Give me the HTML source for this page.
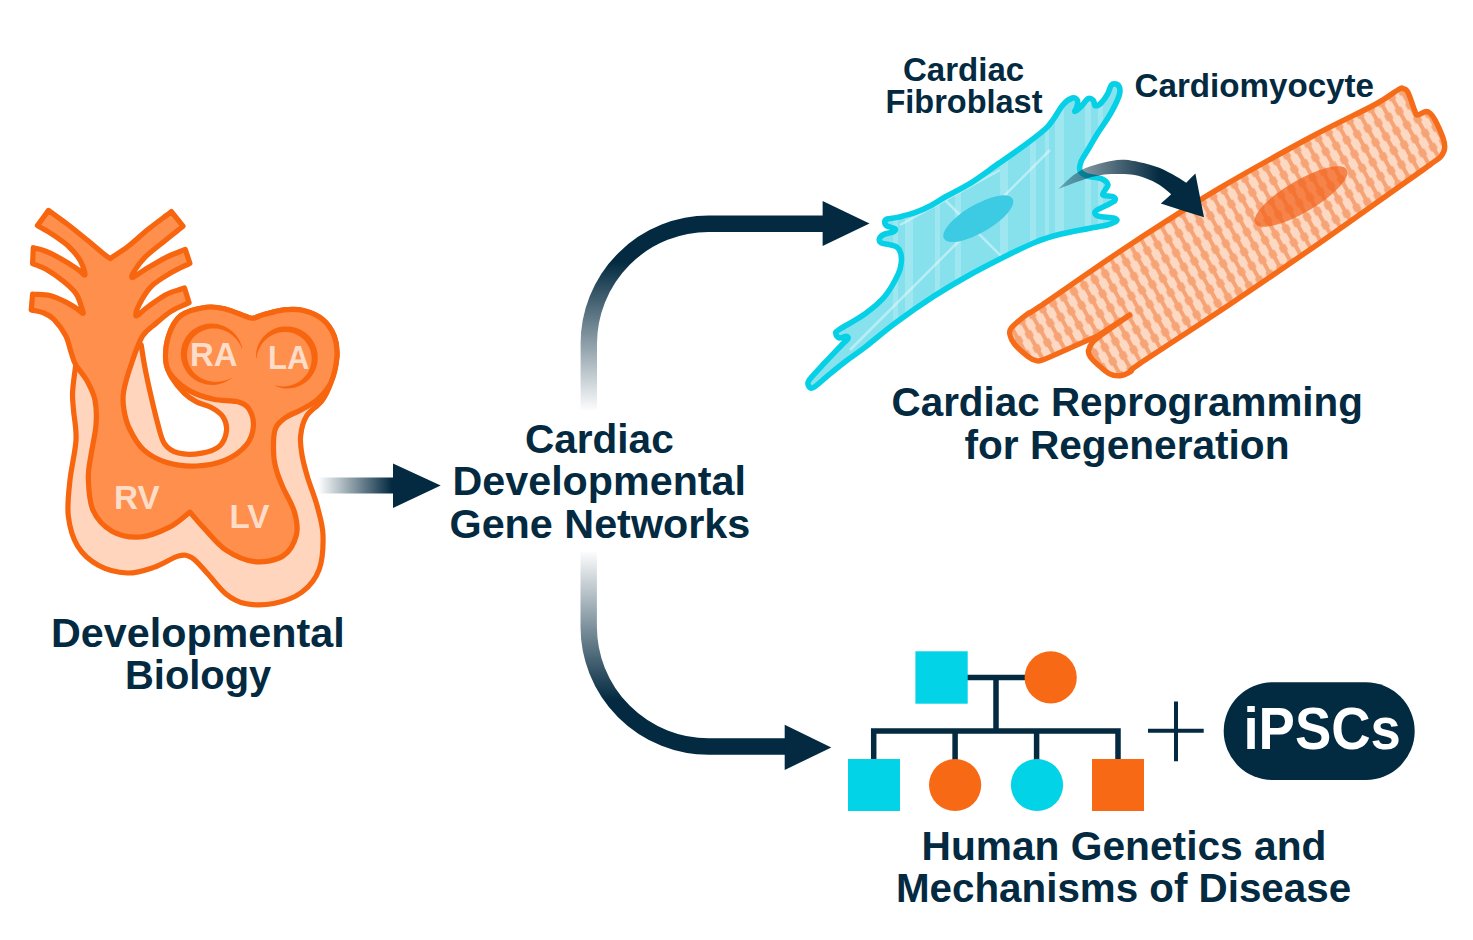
<!DOCTYPE html>
<html><head><meta charset="utf-8">
<style>
html,body{margin:0;padding:0;background:#fff;}
body{width:1473px;height:940px;overflow:hidden;}
svg{display:block;}
text{font-family:"Liberation Sans",sans-serif;font-weight:bold;}
</style></head><body>
<svg width="1473" height="940" viewBox="0 0 1473 940">
<defs>
  <linearGradient id="gL" gradientUnits="userSpaceOnUse" x1="318" y1="0" x2="392" y2="0">
    <stop offset="0" stop-color="#032a40" stop-opacity="0"/>
    <stop offset="1" stop-color="#032a40" stop-opacity="1"/>
  </linearGradient>
  <linearGradient id="gT" gradientUnits="userSpaceOnUse" x1="0" y1="412" x2="0" y2="262">
    <stop offset="0" stop-color="#032a40" stop-opacity="0"/>
    <stop offset="1" stop-color="#032a40" stop-opacity="1"/>
  </linearGradient>
  <linearGradient id="gB" gradientUnits="userSpaceOnUse" x1="0" y1="550" x2="0" y2="700">
    <stop offset="0" stop-color="#032a40" stop-opacity="0"/>
    <stop offset="1" stop-color="#032a40" stop-opacity="1"/>
  </linearGradient>
</defs>

<!-- ============ HEART ============ -->
<g id="heart" stroke="#f7650f" stroke-width="5.2" stroke-linejoin="round">
  <path fill="#ffd5bd" d="M75.7,364.7 C74.7,373.7 73,384.2 72.6,391.8 C72.2,399.4 72.9,402 73.5,410 C74.1,418 76.6,428.3 76,440 C75.4,451.7 71.3,467.3 70,480 C68.7,492.7 67,504.9 68.3,516 C69.6,527.1 72.7,538.1 77.8,546.4 C82.9,554.6 90.5,561.1 98.7,565.5 C106.9,569.9 118,572.7 127.2,573 C136.4,573.3 145.2,570.2 153.8,567.4 C162.4,564.6 172.2,557.6 178.5,556 C184.8,554.4 187.2,555 191.9,557.8 C196.7,560.6 201.3,567 207,573 C212.7,579 219.7,588.9 226,594 C232.3,599.1 237.1,601.9 245,603.5 C252.9,605.1 264.1,605.4 273.6,603.5 C283.1,601.6 294.5,597.7 302.1,592 C309.7,586.3 315.7,578.8 319.2,569.3 C322.7,559.8 323.3,545.5 323,535 C322.7,524.5 319.8,516 317.3,506.5 C314.8,497 310.4,486.6 307.8,478 C305.2,469.4 303.2,462.1 302,455 C300.8,447.9 299.9,441.9 300.7,435.4 C301.4,428.9 302.9,421.9 306.5,416.1 C310.1,410.3 317.9,406.2 322,400.6 C326.1,395.1 328.3,390.1 330.8,382.8 C333.3,375.5 336.3,364.8 336.9,357 C337.5,349.2 336.7,342.6 334.3,336.3 C331.9,330.1 327.9,323.8 322.7,319.5 C317.5,315.2 309.8,312.1 303.3,310.5 C296.9,308.9 290.4,309.2 284,309.8 C277.6,310.4 269.8,312.9 264.6,314.3 C259.4,315.7 256.2,317.9 253,318.2 C249.8,318.5 249.8,317.8 245.3,316.3 C240.8,314.8 232.4,310.7 225.9,309.2 C219.4,307.7 214.1,306.2 206.6,307.3 C199.1,308.4 187.2,310.8 180.8,315.6 C174.5,320.4 171,328.3 168.5,336 C166,343.7 165.4,355 166,362 C166.6,369 168.9,372.8 172,378 C175.1,383.2 180.4,389.5 184.4,393.4 C188.4,397.3 191.6,399.2 196.1,401.6 C200.6,404 206.8,405 211.3,407.5 C215.8,410 220.5,412.9 223,416.8 C225.5,420.7 227.1,426 226.5,430.9 C225.9,435.8 223.6,442.4 219.5,446.1 C215.4,449.8 208.7,451.9 201.9,453.1 C195.1,454.3 184.7,454.7 178.5,453.1 C172.3,451.5 168,448.8 164.5,443.7 C161,438.6 159.8,431.1 157.5,422.7 C155.2,414.3 152.6,403.1 150.4,393.4 C148.2,383.7 145.9,372.8 144.4,364.7 C142.9,356.6 142.3,351.6 141.2,345 C119.4,351.6 97.5,358.1 75.7,364.7 Z"/>
  <path fill="#fe8f4d" d="M86.9,380.6 C83.7,374.8 78.4,369.5 75.7,364.7 C73,359.9 72.6,356.8 71,352 C69.4,347.2 68.7,341.4 65.9,336 C63.1,330.6 57.6,323.3 54,319.5 C50.4,315.7 47.8,314.6 44,313 C40.2,311.4 35.5,310.9 31.2,309.9 C31.7,304.6 32.1,299.3 32.6,294 C38.4,294.5 44.2,294 49.9,295.4 C55.5,296.8 61.9,300 66.5,302.3 C71.1,304.6 74.8,307.3 77.5,309.2 C80.2,311.1 82.3,313.7 83,313.5 C83.7,313.3 82.8,311.1 81.7,307.8 C80.6,304.6 79.2,298.4 76.2,294 C73.2,289.6 68.8,285.8 63.7,281.6 C58.6,277.5 50.9,272.1 45.7,269.1 C40.5,266.1 37,265.4 32.6,263.6 C32.8,258.3 33.1,253 33.3,247.7 C37.4,248.9 41.3,249.5 45.7,251.2 C50.1,252.9 54.3,255.1 59.6,258.1 C64.9,261.1 73.3,266.3 77.5,269.1 C81.7,271.9 84.5,276.4 85,275 C85.5,273.6 82.9,265.5 80.3,260.8 C77.7,256.1 73.8,251.4 69.2,247 C64.6,242.6 58,238.2 52.7,234.6 C47.4,231 42.5,228.6 37.4,225.6 C41.1,220.5 44.8,215.5 48.5,210.4 C54.5,214.8 60,218.6 66.5,223.5 C73,228.4 81,235 87.2,240.1 C93.4,245.2 100,250.8 103.8,253.9 C107.6,257 108.1,257 110.2,258.5 C116.2,254.4 121.9,251.2 128.2,246.3 C134.5,241.4 141,235.1 148.2,229.3 C155.4,223.5 163.7,217.5 171.4,211.6 C175.3,216.5 179.1,221.3 183,226.2 C176.6,231.4 170,236.5 163.7,241.7 C157.4,246.8 150,252.2 145.1,257.1 C140.2,262 136.4,267.6 134.3,271 C132.2,274.4 130.7,277.8 132.5,277.5 C134.3,277.2 139.4,272.9 145.1,269.5 C150.8,266.1 160,260.5 166.7,257.1 C173.4,253.8 179.1,252 185.3,249.4 C186.8,254 188.4,258.7 189.9,263.3 C183.7,266.4 177.8,268.8 171.4,272.6 C165,276.5 156.7,281 151.3,286.4 C145.9,291.8 141.5,300.1 139,305 C136.5,309.9 134.8,315.8 136.3,316 C137.8,316.2 143.1,310.1 148.2,306.5 C153.3,302.9 160.6,297.3 166.7,294.2 C172.8,291.1 178.6,290.1 184.5,288 C186,292.9 187.6,297.8 189.1,302.7 C183.2,305.5 176.9,307.6 171.4,311.1 C165.9,314.6 160.7,319.3 155.9,323.5 C151.1,327.7 146.5,329.8 142.5,336.2 C138.5,342.6 135.2,352.7 132,362 C128.8,371.3 124.9,383.8 123.6,391.8 C122.3,399.8 123,403.9 124,410 C125,416.1 126.2,421.9 129.4,428.5 C132.6,435.1 137.2,443.9 143.4,449.6 C149.6,455.3 158,459.8 166.8,462.5 C175.6,465.2 186.2,466.4 196,466 C205.8,465.6 216.9,463.6 225.3,460.1 C233.7,456.6 241.7,450.5 246.4,444.9 C251.1,439.2 253,432.2 253.4,426.2 C253.8,420.1 251.4,412.7 248.7,408.6 C246,404.5 242.8,403.2 237,401.6 C231.2,400.1 221.4,401.1 213.6,399.3 C205.8,397.6 197,394.8 190.2,391.1 C183.4,387.4 176.8,381.9 172.7,377 C168.6,372.1 166.5,368.5 165.8,361.7 C165.1,354.9 166,343.7 168.5,336 C171,328.3 174.5,320.4 180.8,315.6 C187.2,310.8 199.1,308.4 206.6,307.3 C214.1,306.2 219.4,307.7 225.9,309.2 C232.4,310.7 240.8,314.8 245.3,316.3 C249.8,317.8 249.8,318.5 253,318.2 C256.2,317.9 259.4,315.7 264.6,314.3 C269.8,312.9 277.6,310.4 284,309.8 C290.4,309.2 296.9,308.9 303.3,310.5 C309.8,312.1 317.5,315.2 322.7,319.5 C327.9,323.8 331.9,330.1 334.3,336.3 C336.7,342.6 337.5,349.2 336.9,357 C336.3,364.8 333.9,375.9 330.8,382.8 C327.7,389.7 323.2,394.2 318.5,398.6 C313.8,403 308.3,405.9 302.7,409.1 C297.1,412.3 289.6,414.5 285,418 C280.4,421.5 276.9,423.9 275,430 C273.1,436.1 273.4,447.8 273.7,454.8 C274,461.8 275.4,466.6 277,472 C278.6,477.4 280.1,480.8 283,487.5 C285.9,494.2 292.3,504.3 294.5,512.2 C296.7,520.1 298.3,527.7 296.4,535 C294.5,542.3 290,551.5 283,556 C276,560.5 264.1,562.7 254.6,561.7 C245.1,560.7 234.6,555.9 226,550.2 C217.4,544.5 209.3,533.7 203.3,527.4 C197.3,521.1 194.4,517.3 190,512.2 C183,517.3 177.2,523.3 169,527.4 C160.8,531.5 150,536.4 140.5,537 C131,537.6 119.9,535.7 112,531.2 C104.1,526.8 97,519.2 93,510.3 C89,501.4 88.6,487.2 88.3,478 C88,468.8 89.7,463.8 91,455 C92.3,446.2 95.3,434.2 96,425 C96.7,415.8 96.4,407.2 94.9,399.8 C93.4,392.4 90.1,386.5 86.9,380.6 Z"/>
  <path stroke="none" fill="#f7650f" d="M242.4,348.2 L241.4,345.0 L240.2,341.9 L238.6,338.9 L236.7,336.1 L234.5,333.6 L232.1,331.2 L229.5,329.2 L226.7,327.4 L223.7,326.0 L220.5,324.9 L217.3,324.1 L214.0,323.7 L210.7,323.6 L207.4,323.8 L204.1,324.5 L200.9,325.4 L197.9,326.7 L194.9,328.4 L192.2,330.3 L189.7,332.6 L187.5,335.0 L185.6,337.8 L183.9,340.7 L182.6,343.8 L181.7,347.0 L181.1,350.3 L180.8,353.6 L181.0,357.0 L181.5,360.3 L182.4,363.5 L183.6,366.6 L185.1,369.6 L187.0,372.4 L189.1,374.9 L191.5,377.2 L194.1,379.3 L196.9,381.0 L199.9,382.5 L203.1,383.6 L206.3,384.4 L209.6,384.8 L212.9,384.9 L216.2,384.7 L219.5,384.0 L222.8,383.1 L225.9,381.8 L228.8,380.1 L231.7,378.3 L231.3,377.9 L228.3,379.4 L225.2,380.5 L222.0,381.2 L218.9,381.7 L215.8,381.9 L212.8,381.7 L209.8,381.3 L207.0,380.6 L204.2,379.6 L201.6,378.4 L199.2,377.0 L196.9,375.3 L194.8,373.4 L193.0,371.4 L191.4,369.1 L190.0,366.8 L188.8,364.3 L188.0,361.7 L187.3,359.1 L187.0,356.4 L187.0,353.8 L187.2,351.1 L187.7,348.4 L188.4,345.9 L189.5,343.4 L190.8,341.0 L192.3,338.8 L194.0,336.8 L196.0,334.9 L198.1,333.3 L200.4,331.9 L202.9,330.7 L205.5,329.7 L208.1,329.1 L210.9,328.6 L213.7,328.5 L216.5,328.6 L219.3,329.1 L222.1,329.8 L224.8,330.8 L227.5,332.1 L230.0,333.6 L232.5,335.4 L234.7,337.5 L236.9,339.9 L238.8,342.5 L240.5,345.3 L241.8,348.3Z"/>
  <path stroke="none" fill="#f7650f" d="M256.0,358.1 L256.1,354.9 L256.3,351.8 L257.0,348.6 L258.0,345.6 L259.3,342.7 L261.0,339.9 L263.0,337.3 L265.2,334.9 L267.7,332.7 L270.4,330.9 L273.3,329.3 L276.4,328.0 L279.6,327.1 L282.9,326.6 L286.3,326.4 L289.6,326.5 L292.9,327.0 L296.2,327.9 L299.3,329.1 L302.3,330.7 L305.2,332.5 L307.8,334.7 L310.1,337.1 L312.2,339.8 L314.0,342.7 L315.4,345.8 L316.5,349.0 L317.3,352.3 L317.7,355.6 L317.7,359.0 L317.4,362.4 L316.7,365.7 L315.7,368.8 L314.3,371.9 L312.6,374.8 L310.6,377.5 L308.4,379.9 L305.9,382.1 L303.2,384.0 L300.3,385.6 L297.3,386.8 L294.1,387.7 L290.9,388.3 L287.7,388.5 L284.5,388.4 L281.4,387.9 L278.3,387.0 L275.3,386.0 L275.5,385.4 L278.5,386.1 L281.6,386.4 L284.6,386.4 L287.6,386.0 L290.5,385.5 L293.3,384.6 L295.9,383.5 L298.5,382.1 L300.8,380.5 L303.0,378.6 L304.9,376.6 L306.7,374.4 L308.2,372.0 L309.4,369.5 L310.4,366.9 L311.1,364.3 L311.5,361.6 L311.7,358.8 L311.5,356.1 L311.1,353.4 L310.5,350.8 L309.5,348.2 L308.4,345.8 L306.9,343.5 L305.3,341.3 L303.4,339.3 L301.3,337.6 L299.1,336.0 L296.7,334.7 L294.2,333.6 L291.6,332.8 L288.9,332.3 L286.2,332.0 L283.4,332.0 L280.6,332.3 L277.9,332.8 L275.2,333.7 L272.6,334.8 L270.2,336.2 L267.8,337.8 L265.6,339.7 L263.6,341.8 L261.8,344.1 L260.3,346.6 L258.9,349.3 L257.8,352.1 L257.0,355.0 L256.6,358.1Z"/>
  
</g>


<defs>
  <clipPath id="clipM"><path d="M1011.3,328 C1014.2,324.4 1022.8,317.5 1027.6,313.9 C1032.4,310.3 1022.9,317.8 1040,306.3 C1057.1,294.8 1100,264.4 1130,244.7 C1160,225 1190,205.8 1220,187.9 C1250,170 1284.2,151.4 1310,137.5 C1335.8,123.6 1360.3,112.5 1375.1,104.5 C1389.8,96.5 1393.8,92.1 1398.5,89.5 C1403.2,86.9 1401.6,88.2 1403.2,88.7 C1404.8,89.2 1406,88.5 1407.9,92.2 C1409.9,95.9 1413.3,107.2 1414.9,111 C1416.5,114.8 1415.5,115 1417.3,115.1 C1419.1,115.2 1423.4,111.9 1425.5,111.6 C1427.6,111.3 1428.5,111.9 1430.1,113.3 C1431.7,114.7 1433,116 1435.1,120 C1437.2,124 1441.2,132.6 1442.8,137.2 C1444.4,141.8 1445,144.6 1444.7,147.8 C1444.4,151 1443,153.9 1440.9,156.4 C1438.8,158.9 1437.6,159.1 1432.2,163.1 C1426.8,167.1 1427,167 1408.3,180.3 C1389.6,193.6 1349.7,222 1320,242.7 C1290.3,263.3 1260,284.1 1230,304.2 C1200,324.3 1156.5,352.2 1140,363.4 C1123.5,374.6 1134.1,369.4 1130.8,371.5 C1127.5,373.6 1123.5,375.4 1119.9,375.8 C1116.3,376.2 1112.6,375.4 1109,373.6 C1105.4,371.8 1101.3,367.7 1098.2,365 C1095.1,362.3 1092.2,359.7 1090.6,357.3 C1089,354.9 1088,353.3 1088.4,350.8 C1088.8,348.3 1090.3,345 1092.8,342.1 C1095.3,339.2 1097.4,337.9 1103.6,333.4 C1109.8,328.9 1121,321.1 1129.7,315 C1119.2,321.9 1108.7,328.7 1098.2,335.6 C1089.1,339.6 1080,343.6 1071,347.6 C1062,351.6 1049.7,357.3 1043.9,359.5 C1038.1,361.7 1039,361.1 1036.3,360.6 C1033.6,360.1 1031.2,359 1027.6,356.3 C1024,353.6 1017.5,347.8 1014.6,344.3 C1011.7,340.9 1010.8,338.3 1010.2,335.6 C1009.7,332.9 1008.4,331.6 1011.3,328 Z"/></clipPath>
  <clipPath id="clipF"><path d="M887.2,219 C889.5,218.2 894.1,218.2 898.7,217.1 C903.3,216 909.3,214.6 914.7,212.7 C920.1,210.8 925.9,208.2 931,205.5 C936.1,202.8 938.8,200.6 945.5,196.8 C952.2,193 962.5,188.1 971,182.8 C979.5,177.5 988.1,170.9 996.6,164.9 C1005.1,158.9 1013.6,153.4 1022.1,147 C1030.6,140.6 1040.9,133.6 1047.7,126.6 C1054.5,119.6 1058.7,109.8 1062.8,105 C1066.9,100.2 1069.8,98.8 1072.3,98 C1074.8,97.2 1076.8,99 1077.5,100.5 C1078.2,102 1077.2,105.2 1076.8,107 C1076.4,108.8 1074.2,111.4 1074.9,111.4 C1075.6,111.4 1078.5,109.1 1080.7,107 C1082.9,104.9 1086.2,99.7 1088.3,98.6 C1090.4,97.5 1092.2,99.3 1093.4,100.5 C1094.6,101.7 1094,105.3 1095.3,105.7 C1096.6,106.1 1099,105 1101,103.1 C1103,101.2 1105.8,97.2 1107.5,94.2 C1109.2,91.2 1109.9,86.9 1111.3,85.2 C1112.7,83.5 1114.4,83.6 1115.8,84 C1117.2,84.4 1119.1,85.8 1119.6,87.8 C1120.1,89.8 1120.5,91.8 1119,96 C1117.5,100.2 1114.4,106.8 1110.7,113.3 C1107,119.8 1100.4,128.9 1096.6,135 C1092.8,141.1 1090.4,145.6 1087.8,150 C1085.2,154.4 1082.4,158 1081.1,161.5 C1079.8,165 1079.1,168.7 1080.1,171.1 C1081,173.5 1083.3,174.6 1086.8,175.9 C1090.3,177.2 1097.7,177.3 1101.2,178.7 C1104.7,180.1 1107.3,182.6 1107.9,184.5 C1108.5,186.4 1105.8,188.4 1105,190.2 C1104.2,191.9 1101.7,193.9 1103.1,195 C1104.5,196.1 1111.7,195.9 1113.6,196.9 C1115.5,197.9 1115.9,199.4 1114.6,200.8 C1113.3,202.2 1109.2,203.8 1106,205.5 C1102.8,207.2 1096.7,209.5 1095.4,211.3 C1094.1,213.1 1095.3,215 1098.3,216.1 C1101.3,217.2 1110.6,217.2 1113.6,218 C1116.6,218.8 1117.5,219.8 1116.5,220.9 C1115.5,222 1112.5,223.4 1107.9,224.7 C1103.3,226 1096.7,226.9 1088.7,228.5 C1080.7,230.1 1068.8,232.1 1060,234.3 C1051.2,236.6 1046,237.9 1036,242 C1026,246.1 1011.7,253.1 1000,259 C988.3,264.9 976.6,271 965.6,277.2 C954.6,283.4 945.7,288.6 934,296.2 C922.3,303.8 906.9,314.4 895.4,322.9 C883.9,331.4 873,341 864.8,347.4 C856.6,353.8 852,356.5 846.1,361 C840.2,365.5 834.5,370.2 829.1,374.6 C823.7,379 817.1,385.5 813.7,387.4 C810.3,389.2 809.3,387 808.6,385.7 C807.9,384.4 806.8,383.5 809.5,379.7 C812.2,375.9 819.5,368.4 824.8,362.7 C830,357 837.2,349.7 841,345.7 C844.8,341.7 846.9,340.4 847.8,338.8 C848.6,337.2 847.5,336.4 846.1,336.3 C844.7,336.2 841,338.4 839.3,338 C837.6,337.6 835.9,335.1 835.9,333.7 C835.9,332.3 834.5,332.8 839.3,329.5 C844.1,326.2 857.2,319.6 864.8,314 C872.4,308.4 879.3,302.9 884.9,296.2 C890.5,289.5 895.6,279.6 898.3,273.9 C901,268.2 900.9,265.5 901.3,262 C901.7,258.5 901.4,255.4 900.6,252.9 C899.9,250.4 898.7,248.5 896.8,247.1 C894.9,245.7 891.8,245.3 889.1,244.6 C886.5,243.9 882.5,243.8 880.9,242.7 C879.3,241.6 879.1,239.6 879.6,238.2 C880.1,236.8 881.7,235.5 884,234.4 C886.3,233.3 891.8,232.8 893.6,231.8 C895.4,230.8 896,229.6 894.9,228.6 C893.8,227.6 888.9,227.2 887.2,226.1 C885.5,225 884.7,223.4 884.7,222.2 C884.7,221 884.9,219.8 887.2,219 Z"/></clipPath>
  <pattern id="stripes" patternUnits="userSpaceOnUse" width="12" height="16" patternTransform="rotate(-29)">
    <rect x="4" y="0" width="4" height="16" fill="#f6a375"/>
    <path d="M6,1.7 L9.7,4.7 L9.7,10.3 L6,13.3 L2.3,10.3 L2.3,4.7 Z" fill="#f6a375"/>
  </pattern>
  <linearGradient id="gS" gradientUnits="userSpaceOnUse" x1="1062" y1="0" x2="1160" y2="0">
    <stop offset="0" stop-color="#032a40" stop-opacity="0.35"/>
    <stop offset="1" stop-color="#032a40" stop-opacity="1"/>
  </linearGradient>
</defs>
<g id="cardiomyocyte">
  <path d="M1011.3,328 C1014.2,324.4 1022.8,317.5 1027.6,313.9 C1032.4,310.3 1022.9,317.8 1040,306.3 C1057.1,294.8 1100,264.4 1130,244.7 C1160,225 1190,205.8 1220,187.9 C1250,170 1284.2,151.4 1310,137.5 C1335.8,123.6 1360.3,112.5 1375.1,104.5 C1389.8,96.5 1393.8,92.1 1398.5,89.5 C1403.2,86.9 1401.6,88.2 1403.2,88.7 C1404.8,89.2 1406,88.5 1407.9,92.2 C1409.9,95.9 1413.3,107.2 1414.9,111 C1416.5,114.8 1415.5,115 1417.3,115.1 C1419.1,115.2 1423.4,111.9 1425.5,111.6 C1427.6,111.3 1428.5,111.9 1430.1,113.3 C1431.7,114.7 1433,116 1435.1,120 C1437.2,124 1441.2,132.6 1442.8,137.2 C1444.4,141.8 1445,144.6 1444.7,147.8 C1444.4,151 1443,153.9 1440.9,156.4 C1438.8,158.9 1437.6,159.1 1432.2,163.1 C1426.8,167.1 1427,167 1408.3,180.3 C1389.6,193.6 1349.7,222 1320,242.7 C1290.3,263.3 1260,284.1 1230,304.2 C1200,324.3 1156.5,352.2 1140,363.4 C1123.5,374.6 1134.1,369.4 1130.8,371.5 C1127.5,373.6 1123.5,375.4 1119.9,375.8 C1116.3,376.2 1112.6,375.4 1109,373.6 C1105.4,371.8 1101.3,367.7 1098.2,365 C1095.1,362.3 1092.2,359.7 1090.6,357.3 C1089,354.9 1088,353.3 1088.4,350.8 C1088.8,348.3 1090.3,345 1092.8,342.1 C1095.3,339.2 1097.4,337.9 1103.6,333.4 C1109.8,328.9 1121,321.1 1129.7,315 C1119.2,321.9 1108.7,328.7 1098.2,335.6 C1089.1,339.6 1080,343.6 1071,347.6 C1062,351.6 1049.7,357.3 1043.9,359.5 C1038.1,361.7 1039,361.1 1036.3,360.6 C1033.6,360.1 1031.2,359 1027.6,356.3 C1024,353.6 1017.5,347.8 1014.6,344.3 C1011.7,340.9 1010.8,338.3 1010.2,335.6 C1009.7,332.9 1008.4,331.6 1011.3,328 Z" fill="#fdd8c2"/>
  <g clip-path="url(#clipM)">
    <rect x="980" y="60" width="500" height="340" fill="url(#stripes)"/>
    <ellipse cx="1301" cy="196.5" rx="53" ry="16" transform="rotate(-30.5 1301 196.5)" fill="#f2621a" opacity="0.72"/>
  </g>
  <path d="M1011.3,328 C1014.2,324.4 1022.8,317.5 1027.6,313.9 C1032.4,310.3 1022.9,317.8 1040,306.3 C1057.1,294.8 1100,264.4 1130,244.7 C1160,225 1190,205.8 1220,187.9 C1250,170 1284.2,151.4 1310,137.5 C1335.8,123.6 1360.3,112.5 1375.1,104.5 C1389.8,96.5 1393.8,92.1 1398.5,89.5 C1403.2,86.9 1401.6,88.2 1403.2,88.7 C1404.8,89.2 1406,88.5 1407.9,92.2 C1409.9,95.9 1413.3,107.2 1414.9,111 C1416.5,114.8 1415.5,115 1417.3,115.1 C1419.1,115.2 1423.4,111.9 1425.5,111.6 C1427.6,111.3 1428.5,111.9 1430.1,113.3 C1431.7,114.7 1433,116 1435.1,120 C1437.2,124 1441.2,132.6 1442.8,137.2 C1444.4,141.8 1445,144.6 1444.7,147.8 C1444.4,151 1443,153.9 1440.9,156.4 C1438.8,158.9 1437.6,159.1 1432.2,163.1 C1426.8,167.1 1427,167 1408.3,180.3 C1389.6,193.6 1349.7,222 1320,242.7 C1290.3,263.3 1260,284.1 1230,304.2 C1200,324.3 1156.5,352.2 1140,363.4 C1123.5,374.6 1134.1,369.4 1130.8,371.5 C1127.5,373.6 1123.5,375.4 1119.9,375.8 C1116.3,376.2 1112.6,375.4 1109,373.6 C1105.4,371.8 1101.3,367.7 1098.2,365 C1095.1,362.3 1092.2,359.7 1090.6,357.3 C1089,354.9 1088,353.3 1088.4,350.8 C1088.8,348.3 1090.3,345 1092.8,342.1 C1095.3,339.2 1097.4,337.9 1103.6,333.4 C1109.8,328.9 1121,321.1 1129.7,315 C1119.2,321.9 1108.7,328.7 1098.2,335.6 C1089.1,339.6 1080,343.6 1071,347.6 C1062,351.6 1049.7,357.3 1043.9,359.5 C1038.1,361.7 1039,361.1 1036.3,360.6 C1033.6,360.1 1031.2,359 1027.6,356.3 C1024,353.6 1017.5,347.8 1014.6,344.3 C1011.7,340.9 1010.8,338.3 1010.2,335.6 C1009.7,332.9 1008.4,331.6 1011.3,328 Z" fill="none" stroke="#f66b17" stroke-width="5.4" stroke-linejoin="round"/>
</g>
<g id="fibroblast">
  <path d="M887.2,219 C889.5,218.2 894.1,218.2 898.7,217.1 C903.3,216 909.3,214.6 914.7,212.7 C920.1,210.8 925.9,208.2 931,205.5 C936.1,202.8 938.8,200.6 945.5,196.8 C952.2,193 962.5,188.1 971,182.8 C979.5,177.5 988.1,170.9 996.6,164.9 C1005.1,158.9 1013.6,153.4 1022.1,147 C1030.6,140.6 1040.9,133.6 1047.7,126.6 C1054.5,119.6 1058.7,109.8 1062.8,105 C1066.9,100.2 1069.8,98.8 1072.3,98 C1074.8,97.2 1076.8,99 1077.5,100.5 C1078.2,102 1077.2,105.2 1076.8,107 C1076.4,108.8 1074.2,111.4 1074.9,111.4 C1075.6,111.4 1078.5,109.1 1080.7,107 C1082.9,104.9 1086.2,99.7 1088.3,98.6 C1090.4,97.5 1092.2,99.3 1093.4,100.5 C1094.6,101.7 1094,105.3 1095.3,105.7 C1096.6,106.1 1099,105 1101,103.1 C1103,101.2 1105.8,97.2 1107.5,94.2 C1109.2,91.2 1109.9,86.9 1111.3,85.2 C1112.7,83.5 1114.4,83.6 1115.8,84 C1117.2,84.4 1119.1,85.8 1119.6,87.8 C1120.1,89.8 1120.5,91.8 1119,96 C1117.5,100.2 1114.4,106.8 1110.7,113.3 C1107,119.8 1100.4,128.9 1096.6,135 C1092.8,141.1 1090.4,145.6 1087.8,150 C1085.2,154.4 1082.4,158 1081.1,161.5 C1079.8,165 1079.1,168.7 1080.1,171.1 C1081,173.5 1083.3,174.6 1086.8,175.9 C1090.3,177.2 1097.7,177.3 1101.2,178.7 C1104.7,180.1 1107.3,182.6 1107.9,184.5 C1108.5,186.4 1105.8,188.4 1105,190.2 C1104.2,191.9 1101.7,193.9 1103.1,195 C1104.5,196.1 1111.7,195.9 1113.6,196.9 C1115.5,197.9 1115.9,199.4 1114.6,200.8 C1113.3,202.2 1109.2,203.8 1106,205.5 C1102.8,207.2 1096.7,209.5 1095.4,211.3 C1094.1,213.1 1095.3,215 1098.3,216.1 C1101.3,217.2 1110.6,217.2 1113.6,218 C1116.6,218.8 1117.5,219.8 1116.5,220.9 C1115.5,222 1112.5,223.4 1107.9,224.7 C1103.3,226 1096.7,226.9 1088.7,228.5 C1080.7,230.1 1068.8,232.1 1060,234.3 C1051.2,236.6 1046,237.9 1036,242 C1026,246.1 1011.7,253.1 1000,259 C988.3,264.9 976.6,271 965.6,277.2 C954.6,283.4 945.7,288.6 934,296.2 C922.3,303.8 906.9,314.4 895.4,322.9 C883.9,331.4 873,341 864.8,347.4 C856.6,353.8 852,356.5 846.1,361 C840.2,365.5 834.5,370.2 829.1,374.6 C823.7,379 817.1,385.5 813.7,387.4 C810.3,389.2 809.3,387 808.6,385.7 C807.9,384.4 806.8,383.5 809.5,379.7 C812.2,375.9 819.5,368.4 824.8,362.7 C830,357 837.2,349.7 841,345.7 C844.8,341.7 846.9,340.4 847.8,338.8 C848.6,337.2 847.5,336.4 846.1,336.3 C844.7,336.2 841,338.4 839.3,338 C837.6,337.6 835.9,335.1 835.9,333.7 C835.9,332.3 834.5,332.8 839.3,329.5 C844.1,326.2 857.2,319.6 864.8,314 C872.4,308.4 879.3,302.9 884.9,296.2 C890.5,289.5 895.6,279.6 898.3,273.9 C901,268.2 900.9,265.5 901.3,262 C901.7,258.5 901.4,255.4 900.6,252.9 C899.9,250.4 898.7,248.5 896.8,247.1 C894.9,245.7 891.8,245.3 889.1,244.6 C886.5,243.9 882.5,243.8 880.9,242.7 C879.3,241.6 879.1,239.6 879.6,238.2 C880.1,236.8 881.7,235.5 884,234.4 C886.3,233.3 891.8,232.8 893.6,231.8 C895.4,230.8 896,229.6 894.9,228.6 C893.8,227.6 888.9,227.2 887.2,226.1 C885.5,225 884.7,223.4 884.7,222.2 C884.7,221 884.9,219.8 887.2,219 Z" fill="#88e2ed"/>
  <g clip-path="url(#clipF)" fill="#ffffff">
    <g opacity="0.2">
      <rect x="893" y="150" width="5" height="250"/><rect x="905" y="150" width="8" height="250"/><rect x="935" y="150" width="5" height="250"/>
      <rect x="955" y="150" width="6" height="250"/><rect x="1000" y="100" width="8" height="250"/><rect x="1030" y="90" width="6" height="250"/>
      <rect x="1045" y="90" width="4" height="250"/><rect x="1055" y="90" width="9" height="250"/><rect x="1085" y="80" width="6" height="250"/><rect x="1098" y="80" width="5" height="250"/>
    </g>
    <g opacity="0.4" stroke="#ffffff" stroke-width="2.5" fill="none">
      <path d="M850,350 L1050,150 M945,200 L1010,265 M1010,150 L1060,105 M900,225 L1000,170"/>
    </g>
  </g>
  <ellipse cx="978.3" cy="218.7" rx="39.7" ry="14" transform="rotate(-30.2 978.3 218.7)" fill="#3ccbe2"/>
  <path d="M887.2,219 C889.5,218.2 894.1,218.2 898.7,217.1 C903.3,216 909.3,214.6 914.7,212.7 C920.1,210.8 925.9,208.2 931,205.5 C936.1,202.8 938.8,200.6 945.5,196.8 C952.2,193 962.5,188.1 971,182.8 C979.5,177.5 988.1,170.9 996.6,164.9 C1005.1,158.9 1013.6,153.4 1022.1,147 C1030.6,140.6 1040.9,133.6 1047.7,126.6 C1054.5,119.6 1058.7,109.8 1062.8,105 C1066.9,100.2 1069.8,98.8 1072.3,98 C1074.8,97.2 1076.8,99 1077.5,100.5 C1078.2,102 1077.2,105.2 1076.8,107 C1076.4,108.8 1074.2,111.4 1074.9,111.4 C1075.6,111.4 1078.5,109.1 1080.7,107 C1082.9,104.9 1086.2,99.7 1088.3,98.6 C1090.4,97.5 1092.2,99.3 1093.4,100.5 C1094.6,101.7 1094,105.3 1095.3,105.7 C1096.6,106.1 1099,105 1101,103.1 C1103,101.2 1105.8,97.2 1107.5,94.2 C1109.2,91.2 1109.9,86.9 1111.3,85.2 C1112.7,83.5 1114.4,83.6 1115.8,84 C1117.2,84.4 1119.1,85.8 1119.6,87.8 C1120.1,89.8 1120.5,91.8 1119,96 C1117.5,100.2 1114.4,106.8 1110.7,113.3 C1107,119.8 1100.4,128.9 1096.6,135 C1092.8,141.1 1090.4,145.6 1087.8,150 C1085.2,154.4 1082.4,158 1081.1,161.5 C1079.8,165 1079.1,168.7 1080.1,171.1 C1081,173.5 1083.3,174.6 1086.8,175.9 C1090.3,177.2 1097.7,177.3 1101.2,178.7 C1104.7,180.1 1107.3,182.6 1107.9,184.5 C1108.5,186.4 1105.8,188.4 1105,190.2 C1104.2,191.9 1101.7,193.9 1103.1,195 C1104.5,196.1 1111.7,195.9 1113.6,196.9 C1115.5,197.9 1115.9,199.4 1114.6,200.8 C1113.3,202.2 1109.2,203.8 1106,205.5 C1102.8,207.2 1096.7,209.5 1095.4,211.3 C1094.1,213.1 1095.3,215 1098.3,216.1 C1101.3,217.2 1110.6,217.2 1113.6,218 C1116.6,218.8 1117.5,219.8 1116.5,220.9 C1115.5,222 1112.5,223.4 1107.9,224.7 C1103.3,226 1096.7,226.9 1088.7,228.5 C1080.7,230.1 1068.8,232.1 1060,234.3 C1051.2,236.6 1046,237.9 1036,242 C1026,246.1 1011.7,253.1 1000,259 C988.3,264.9 976.6,271 965.6,277.2 C954.6,283.4 945.7,288.6 934,296.2 C922.3,303.8 906.9,314.4 895.4,322.9 C883.9,331.4 873,341 864.8,347.4 C856.6,353.8 852,356.5 846.1,361 C840.2,365.5 834.5,370.2 829.1,374.6 C823.7,379 817.1,385.5 813.7,387.4 C810.3,389.2 809.3,387 808.6,385.7 C807.9,384.4 806.8,383.5 809.5,379.7 C812.2,375.9 819.5,368.4 824.8,362.7 C830,357 837.2,349.7 841,345.7 C844.8,341.7 846.9,340.4 847.8,338.8 C848.6,337.2 847.5,336.4 846.1,336.3 C844.7,336.2 841,338.4 839.3,338 C837.6,337.6 835.9,335.1 835.9,333.7 C835.9,332.3 834.5,332.8 839.3,329.5 C844.1,326.2 857.2,319.6 864.8,314 C872.4,308.4 879.3,302.9 884.9,296.2 C890.5,289.5 895.6,279.6 898.3,273.9 C901,268.2 900.9,265.5 901.3,262 C901.7,258.5 901.4,255.4 900.6,252.9 C899.9,250.4 898.7,248.5 896.8,247.1 C894.9,245.7 891.8,245.3 889.1,244.6 C886.5,243.9 882.5,243.8 880.9,242.7 C879.3,241.6 879.1,239.6 879.6,238.2 C880.1,236.8 881.7,235.5 884,234.4 C886.3,233.3 891.8,232.8 893.6,231.8 C895.4,230.8 896,229.6 894.9,228.6 C893.8,227.6 888.9,227.2 887.2,226.1 C885.5,225 884.7,223.4 884.7,222.2 C884.7,221 884.9,219.8 887.2,219 Z" fill="none" stroke="#06d0e6" stroke-width="5.6" stroke-linejoin="round"/>
</g>
<path d="M1058.5,189 C1062.3,185.3 1065.7,181.4 1070,178 C1074.3,174.6 1078.9,171.2 1084.6,168.6 C1090.3,166 1097.3,164 1104,162.5 C1110.7,161 1116.7,159.2 1125,159.8 C1133.3,160.4 1146.1,163.6 1153.9,166 C1161.7,168.4 1166.6,171.2 1172,174 C1177.4,176.8 1181.5,179.8 1186.2,182.7 C1189.3,179.6 1192.3,176.6 1195.4,173.5 C1198.3,188.1 1201.1,202.7 1204,217.3 C1189.6,212.7 1175.2,208.1 1160.8,203.5 C1164.3,200.4 1167.7,197.3 1171.2,194.2 C1167.3,191.1 1164,187.7 1159.6,185 C1155.2,182.3 1149.8,179.7 1145,178 C1140.2,176.3 1136.3,175.3 1130.8,174.6 C1125.3,173.9 1117.8,173.8 1112,174 C1106.2,174.2 1101.9,174.8 1096.2,176 C1090.5,177.2 1084.3,179.3 1078,181.5 C1071.7,183.7 1065,186.5 1058.5,189 Z" fill="url(#gS)"/>


<!-- ============ ARROWS ============ -->
<g id="arrows">
  <rect x="318" y="477.5" width="76" height="16" fill="url(#gL)"/>
  <path d="M393,463.4 L440.7,485.5 L393,507.9 Z" fill="#032a40"/>
  <path d="M588.8,410 V343.8 A120,120 0 0 1 708.8,223.8 H824" fill="none" stroke="url(#gT)" stroke-width="16.4"/>
  <path d="M822.6,201 L869.5,223.6 L822.6,246 Z" fill="#032a40"/>
  <path d="M588.7,552 V626.5 A120,120 0 0 0 708.7,746.5 H786" fill="none" stroke="url(#gB)" stroke-width="16.4"/>
  <path d="M784.7,724.8 L831.3,747.4 L784.7,770 Z" fill="#032a40"/>
</g>

<!-- ============ TEXT ============ -->
<!-- ============ PEDIGREE ============ -->
<g id="pedigree">
  <g stroke="#032a40" stroke-width="5.5" fill="none">
    <path d="M966,677.5 H1026"/>
    <path d="M996,677.5 V731"/>
    <path d="M873.7,761 V731 H1118 V761"/>
    <path d="M955.1,731 V761"/>
    <path d="M1036.6,731 V761"/>
  </g>
  <rect x="915.4" y="651.3" width="52.3" height="52.4" fill="#02d3e7"/>
  <circle cx="1050.7" cy="677.4" r="26.1" fill="#f76914"/>
  <rect x="848" y="759" width="52" height="52" fill="#02d3e7"/>
  <circle cx="955.1" cy="785" r="26.1" fill="#f76914"/>
  <circle cx="1037" cy="785" r="26.1" fill="#02d3e7"/>
  <rect x="1092" y="759" width="52" height="52" fill="#f76914"/>
  <path d="M1148,730.7 H1203.7 M1176,701.6 V761.2" stroke="#032a40" stroke-width="4" fill="none"/>
  <rect x="1223.7" y="682.2" width="191" height="97.8" rx="48.9" fill="#022a40"/>
</g>
<text x="51.0" y="646.9" font-size="40" fill="#032a40" textLength="293.7" lengthAdjust="spacingAndGlyphs">Developmental</text>
<text x="125.0" y="689" font-size="40" fill="#032a40" textLength="146.3" lengthAdjust="spacingAndGlyphs">Biology</text>
<text x="525.0" y="453.1" font-size="40" fill="#032a40" textLength="148.7" lengthAdjust="spacingAndGlyphs">Cardiac</text>
<text x="452.5" y="494.7" font-size="40" fill="#032a40" textLength="293.5" lengthAdjust="spacingAndGlyphs">Developmental</text>
<text x="449.5" y="537.7" font-size="40" fill="#032a40" textLength="300.8" lengthAdjust="spacingAndGlyphs">Gene Networks</text>
<text x="891.5" y="416" font-size="40" fill="#032a40" textLength="471.4" lengthAdjust="spacingAndGlyphs">Cardiac Reprogramming</text>
<text x="964.5" y="458.9" font-size="40" fill="#032a40" textLength="325.0" lengthAdjust="spacingAndGlyphs">for Regeneration</text>
<text x="921.5" y="859.9" font-size="40" fill="#032a40" textLength="404.9" lengthAdjust="spacingAndGlyphs">Human Genetics and</text>
<text x="896.0" y="901.9" font-size="40" fill="#032a40" textLength="455.1" lengthAdjust="spacingAndGlyphs">Mechanisms of Disease</text>
<text x="903.0" y="80.8" font-size="32.4" fill="#032a40" textLength="121.1" lengthAdjust="spacingAndGlyphs">Cardiac</text>
<text x="885.5" y="112.9" font-size="32.4" fill="#032a40" textLength="157.0" lengthAdjust="spacingAndGlyphs">Fibroblast</text>
<text x="1134.5" y="96.7" font-size="32.4" fill="#032a40" textLength="239.5" lengthAdjust="spacingAndGlyphs">Cardiomyocyte</text>
<text x="1243.5" y="749.1" font-size="59" fill="#ffffff" textLength="157.3" lengthAdjust="spacingAndGlyphs">iPSCs</text>
<text x="190.0" y="366.1" font-size="33.5" fill="#fddcc8" textLength="47.6" lengthAdjust="spacingAndGlyphs">RA</text>
<text x="268.0" y="368.9" font-size="33.5" fill="#fddcc8" textLength="41.5" lengthAdjust="spacingAndGlyphs">LA</text>
<text x="114.0" y="509.2" font-size="33.5" fill="#fddcc8" textLength="45.7" lengthAdjust="spacingAndGlyphs">RV</text>
<text x="229.5" y="528.2" font-size="33.5" fill="#fddcc8" textLength="40.0" lengthAdjust="spacingAndGlyphs">LV</text>
</svg>
</body></html>
